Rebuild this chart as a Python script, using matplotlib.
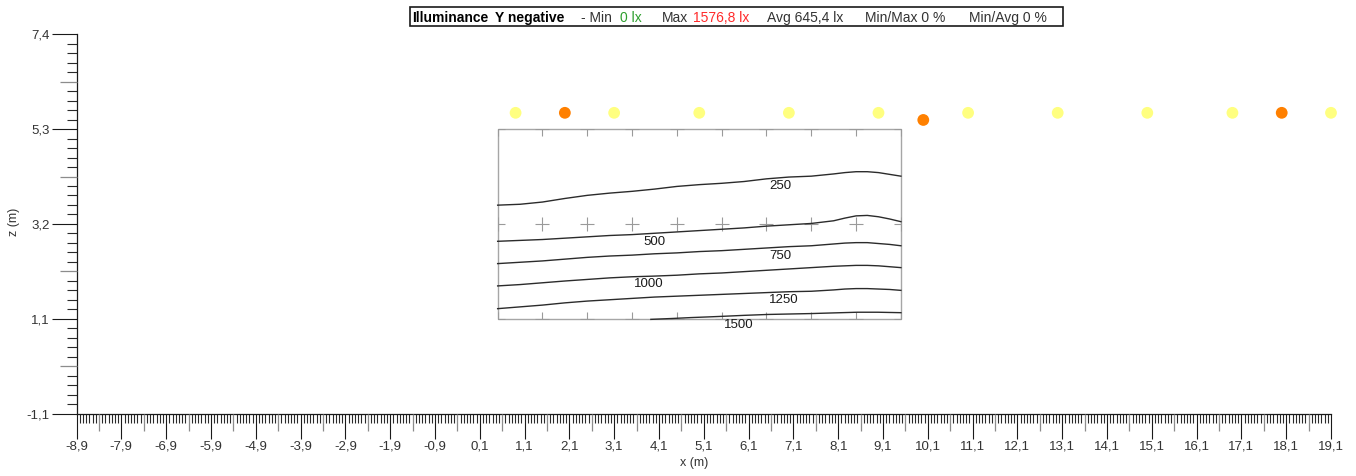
import numpy as np
import matplotlib
matplotlib.use("Agg")
import matplotlib.pyplot as plt
from matplotlib.patches import Rectangle
from matplotlib.ticker import FixedLocator

plt.rcParams['font.family'] = ['Liberation Sans', 'DejaVu Sans']

W, H = 1356, 476

# luminaires seen from Y negative (x, z) and colour class
lum_x = [0.9, 2.0, 3.1, 5.0, 7.0, 9.0, 10.0, 11.0, 13.0, 15.0, 16.9, 18.0, 19.1]
lum_z = [5.64, 5.64, 5.64, 5.64, 5.64, 5.64, 5.48, 5.64, 5.64, 5.64, 5.64, 5.64, 5.64]
lum_cor = ['#ffff80', '#ff8000', '#ffff80', '#ffff80', '#ffff80', '#ffff80', '#ff8000',
           '#ffff80', '#ffff80', '#ffff80', '#ffff80', '#ff8000', '#ffff80']

# calculation surface and its grid points
sup_x = [0.5, 9.5]
sup_z = [1.02, 5.28]
grade_x = [0.5, 1.5, 2.5, 3.5, 4.5, 5.5, 6.5, 7.5, 8.5, 9.5]
grade_z = [1.02, 3.15, 5.28]

# isolines (lx)
iso_x = [0.5, 1.0, 1.5, 2.0, 2.5, 3.0, 3.5, 4.0, 4.5, 5.0, 5.5, 6.0, 6.5, 7.0, 7.5,
         8.0, 8.25, 8.5, 8.75, 9.0, 9.25, 9.5]
iso_250 = [3.57, 3.59, 3.64, 3.72, 3.79, 3.84, 3.88, 3.93, 3.99, 4.03, 4.06, 4.10, 4.16,
           4.20, 4.22, 4.27, 4.30, 4.32, 4.32, 4.30, 4.26, 4.22]
iso_500 = [2.76, 2.78, 2.80, 2.83, 2.86, 2.89, 2.91, 2.94, 2.97, 3.00, 3.03, 3.06, 3.10,
           3.13, 3.16, 3.22, 3.28, 3.33, 3.34, 3.31, 3.26, 3.20]
iso_750 = [2.26, 2.29, 2.32, 2.36, 2.40, 2.43, 2.45, 2.48, 2.50, 2.53, 2.55, 2.58, 2.61,
           2.64, 2.66, 2.70, 2.72, 2.73, 2.73, 2.71, 2.69, 2.66]
iso_1000 = [1.76, 1.79, 1.83, 1.87, 1.905, 1.94, 1.965, 1.98, 2.00, 2.03, 2.05, 2.08, 2.11,
            2.14, 2.17, 2.20, 2.21, 2.22, 2.22, 2.21, 2.19, 2.17]
iso_1250 = [1.25, 1.29, 1.33, 1.38, 1.42, 1.45, 1.48, 1.51, 1.53, 1.55, 1.57, 1.59, 1.61,
            1.63, 1.64, 1.67, 1.69, 1.70, 1.70, 1.69, 1.68, 1.66]
iso_1500_x = [3.92, 4.4, 4.81, 5.2, 5.56, 6.0, 6.53, 7.0, 7.49, 8.0, 8.53, 8.98, 9.5]
iso_1500 = [1.01, 1.03, 1.05, 1.065, 1.08, 1.10, 1.12, 1.13, 1.14, 1.155, 1.17, 1.17, 1.16]

rotulos_iso = ['250', '500', '750', '1000', '1250', '1500']
rotulos_x = [6.81, 4.00, 6.81, 3.88, 6.88, 5.89]
rotulos_z = [4.00, 2.75, 2.44, 1.80, 1.44, 0.88]

# summary values
e_min, e_max, e_avg = 0, 1576.8, 645.4

# axis ticks
x_min, x_max = -8.9, 19.1
z_min, z_max = -1.1, 7.4
z_rotulos = ['-1,1', '1,1', '3,2', '5,3', '7,4']
x_sub = 14  # minor divisions per metre


def virgula(v):
    return f"{v:.1f}".replace('.', ',')


fig = plt.figure(figsize=(W / 100, H / 100), dpi=100)
pos_ax = [76.5 / W, 1 - 413.5 / H, (1331 - 76.5) / W, (413.5 - 34.3) / H]
ax = fig.add_axes(pos_ax)
ax.set_xlim(x_min, x_max)
ax.set_ylim(z_min, z_max)
for s in ['top', 'right']:
    ax.spines[s].set_visible(False)
for s in ['left', 'bottom']:
    ax.spines[s].set_color('#1a1a1a')
    ax.spines[s].set_linewidth(0.9)

# x ticks: major 1.0, mid 0.5, minor subdivisions
n_x = int(round(x_max - x_min))
xt = [x_min + i / x_sub for i in range(n_x * x_sub + 1)]
x_major = [round(x_min + i, 1) for i in range(n_x + 1)]
x_meio = [round(x_min + i + 0.5, 2) for i in range(n_x)]
x_menor = [v for i, v in enumerate(xt) if (2 * i) % x_sub != 0]
ax.set_xticks(x_major)
ax.set_xticklabels([virgula(v) for v in x_major])
ax.xaxis.set_minor_locator(FixedLocator(x_menor))

# z ticks: 4 equal steps, mid tick and 10 subdivisions
passo = (z_max - z_min) / 40
zt = [z_min + j * passo for j in range(41)]
z_major = [v for j, v in enumerate(zt) if j % 10 == 0]
z_meio = [v for j, v in enumerate(zt) if j % 10 == 5]
z_menor = [v for j, v in enumerate(zt) if j % 5 != 0]
ax.set_yticks(z_major)
ax.set_yticklabels(z_rotulos)
ax.yaxis.set_minor_locator(FixedLocator(z_menor))

ax.tick_params(axis='x', which='major', length=18, width=0.8, color='#1a1a1a',
               pad=1.5, labelsize=9.5, labelcolor='#333333')
ax.tick_params(axis='x', which='minor', length=6.5, width=0.8, color='#2a2a2a')
ax.tick_params(axis='y', which='major', length=18, width=0.8, color='#1a1a1a',
               pad=1.5, labelsize=9.5, labelcolor='#333333')
ax.tick_params(axis='y', which='minor', length=7, width=0.8, color='#2a2a2a')

# mid ticks on an overlay axes
ax_m = fig.add_axes(pos_ax, frameon=False)
ax_m.set_xlim(x_min, x_max)
ax_m.set_ylim(z_min, z_max)
ax_m.set_xticks(x_meio)
ax_m.set_yticks(z_meio)
ax_m.tick_params(axis='both', which='major', length=12, width=0.9, color='#8c8c8c',
                 labelbottom=False, labelleft=False)
ax_m.patch.set_visible(False)

# calculation surface
caixa = Rectangle((sup_x[0], sup_z[0]), sup_x[1] - sup_x[0], sup_z[1] - sup_z[0],
                  fill=False, ec='#a6a6a6', lw=1.0, zorder=2)
ax.add_patch(caixa)
gx, gz = np.meshgrid(grade_x, grade_z)
cruzes, = ax.plot(gx.ravel(), gz.ravel(), ls='none', marker='+', ms=9.5,
                  mew=0.8, color='#9a9a9a', zorder=2)
cruzes.set_clip_path(caixa)

# isolines
for zs in [iso_250, iso_500, iso_750, iso_1000, iso_1250]:
    ax.plot(iso_x, zs, color='#2b2b2b', lw=1.0, zorder=3)
ax.plot(iso_1500_x, iso_1500, color='#2b2b2b', lw=1.0, zorder=3)
for txt, xx, zz in zip(rotulos_iso, rotulos_x, rotulos_z):
    ax.text(xx, zz, txt, ha='center', va='center', fontsize=9.5, color='#1a1a1a', zorder=4)

# luminaires
ax.scatter(lum_x, lum_z, s=72, c=lum_cor, edgecolors='none', zorder=5, clip_on=False)

# axis titles
fig.text(694 / W, 1 - 463 / H, 'x (m)', ha='center', va='center', fontsize=9, color='#333333')
fig.text(14 / W, 1 - 222 / H, 'z (m)', ha='center', va='center', fontsize=9,
         color='#333333', rotation=90)

# header box
fig.add_artist(Rectangle((410 / W, 1 - 26 / H), (1063 - 410) / W, 19 / H,
                         transform=fig.transFigure, fill=False, ec='#1a1a1a', lw=1.2))
pecas = [
    ('Illuminance', 412, '#000000', 'bold'),
    ('Y negative', 495, '#000000', 'bold'),
    ('- Min', 581, '#333333', 'normal'),
    (f'{e_min} lx', 620, '#2e9e2e', 'normal'),
    ('Max', 662, '#333333', 'normal'),
    (f'{virgula(e_max)} lx', 693, '#ff2a2a', 'normal'),
    (f'Avg {virgula(e_avg)} lx', 767, '#333333', 'normal'),
    (f'Min/Max {e_min} %', 865, '#333333', 'normal'),
    (f'Min/Avg {e_min} %', 969, '#333333', 'normal'),
]
for txt, px, cor, peso in pecas:
    fig.text(px / W, 1 - 22 / H, txt, ha='left', va='baseline', fontsize=10,
             color=cor, fontweight=peso)

fig.savefig('out.png', dpi=100)
plt.close(fig)
